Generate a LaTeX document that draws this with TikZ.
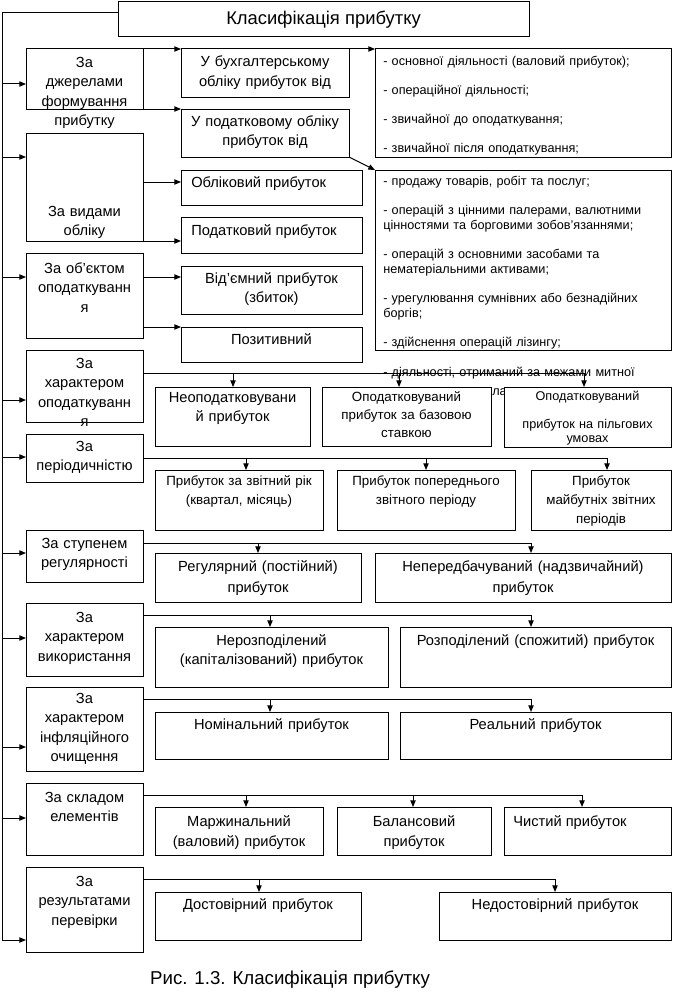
\documentclass[tikz,border=0pt]{standalone}
\usepackage{fontspec}
\setmainfont{Liberation Sans}
\usetikzlibrary{arrows.meta}
\newcommand\bx[6][]{\node[boxst,minimum width={(#5-#3)*0.75pt},minimum height={(#6-#4)*0.75pt},#1] (#2) at ({(#3+#5)/2},{(#4+#6)/2}) {};}
\begin{document}
\begin{tikzpicture}[x=0.75pt,y=-0.75pt,
  ln/.style={line width=0.75pt},
  arr/.style={line width=0.75pt,-{Triangle[length=5pt,width=4pt]}},
  boxst/.style={draw,line width=0.75pt,fill=white,inner sep=0pt,outer sep=0pt},
  lst/.style={inner sep=0pt,anchor=base west,align=left,text width=211.5pt},
  catt/.style={inner sep=0pt,anchor=base,align=center,text width=160pt,font=\fontsize{11}{14.6}\selectfont},
  subt/.style={inner sep=0pt,anchor=base,align=center,text width=260pt,font=\fontsize{11}{14.6}\selectfont},
  lt/.style={inner sep=0pt,anchor=base west,font=\fontsize{11}{14.6}\selectfont}]
\fill[white] (0,0) rectangle (673,999);
\useasboundingbox (0,0) rectangle (673,999);

% list boxes and their texts (texts overflow below)
\bx{l1}{375}{49}{671}{157}
\bx{l2}{375}{170}{671}{350}
\node[lst,font=\fontsize{9.5}{10.875}\selectfont] (l1t) at (383,65.5) {- основної діяльності (валовий прибуток);\\\mbox{}\\- операційної діяльності;\\\mbox{}\\- звичайної до оподаткування;\\\mbox{}\\- звичайної після оподаткування;};
\node[lst,font=\fontsize{9.5}{11}\selectfont] (l2t) at (383,185.5) {- продажу товарів, робіт та послуг;\\\mbox{}\\\makebox[\linewidth][s]{- операцій з цінними палерами, валютними}\\цінностями та борговими зобов’язаннями;\\\mbox{}\\\makebox[\linewidth][s]{- операцій з основними засобами та}\\нематеріальними активами;\\\mbox{}\\\makebox[\linewidth][s]{- урегулювання сумнівних або безнадійних}\\боргів;\\\mbox{}\\- здійснення операцій лізингу;\\\mbox{}\\\makebox[\linewidth][s]{- діяльності, отриманий за межами митної}};
\node[inner sep=0pt,anchor=base west,font=\fontsize{9.5}{11}\selectfont] (frag) at (492,395.5) {лас};

% title
\node[boxst,minimum width={411*0.75pt},minimum height={35*0.75pt},font=\fontsize{13.8}{16}\selectfont] (title) at (323.5,19.5) {Класифікація прибутку};

% category boxes
\bx{c1}{26}{49}{143}{109}
\bx{c2}{26}{133}{143}{241}
\bx{c3}{26}{253}{143}{338}
\bx{c4}{26}{350}{143}{422}
\bx{c5}{26}{434}{143}{482}
\bx{c6}{26}{530}{143}{582}
\bx{c7}{26}{603}{143}{676}
\bx{c8}{26}{687}{143}{771}
\bx{c9}{26}{783}{143}{855}
\bx{c10}{26}{867}{143}{952}

% sub boxes
\bx{s1a}{181}{49}{349}{97}
\bx{s1b}{181}{109}{349}{157}
\bx{s2a}{181}{170}{362}{205}
\bx{s2b}{181}{217}{362}{253}
\bx{s3a}{181}{266}{362}{314}
\bx{s3b}{181}{327}{362}{362}
\bx{s4a}{155}{387}{310}{446}
\bx{s4b}{322}{387}{491}{446}
\bx{s4c}{504}{387}{671}{447}
\bx{s5a}{155}{470}{323}{530}
\bx{s5b}{337}{470}{515}{530}
\bx{s5c}{531}{470}{671}{530}
\bx{s6a}{155}{553}{361}{602}
\bx{s6b}{375}{553}{671}{602}
\bx{s7a}{155}{627}{388}{687}
\bx{s7b}{400}{627}{671}{687}
\bx{s8a}{155}{712}{388}{759}
\bx{s8b}{400}{712}{671}{759}
\bx{s9a}{155}{807}{323}{855}
\bx{s9b}{337}{807}{491}{855}
\bx{s9c}{504}{807}{671}{855}
\bx{s10a}{155}{892}{361}{940}
\bx{s10b}{439}{892}{671}{940}

% category texts
\node[catt] (c1t) at (84.5,67.5) {За\\джерелами\\формування\\прибутку};
\node[catt] (c2t) at (84.5,216.5) {За видами\\обліку};
\node[catt] (c3t) at (84.5,273.5) {За об’єктом\\оподаткуванн\\я};
\node[catt] (c4t) at (84.5,368.5) {За\\характером\\оподаткуванн\\я};
\node[catt] (c5t) at (84.5,451.5) {За\\періодичністю};
\node[catt] (c6t) at (84.5,548.5) {За ступенем\\регулярності};
\node[catt] (c7t) at (84.5,622.5) {За\\характером\\використання};
\node[catt] (c8t) at (84.5,703.5) {За\\характером\\інфляційного\\очищення};
\node[catt] (c9t) at (84.5,802.5) {За складом\\елементів};
\node[catt] (c10t) at (84.5,886.5) {За\\результатами\\перевірки};

% sub texts
\node[subt] (s1at) at (265,67) {У бухгалтерському\\обліку прибуток від};
\node[subt] (s1bt) at (265,126.5) {У податковому обліку\\прибуток від};
\node[lt] (s2at) at (191,187.5) {Обліковий прибуток};
\node[lt] (s2bt) at (191,235) {Податковий прибуток};
\node[subt] (s3at) at (271.5,283.5) {Від’ємний прибуток\\(збиток)};
\node[subt] (s3bt) at (271.5,344.5) {Позитивний};
\node[subt] (s4at) at (232.5,402.5) {Неоподатковувани\\й прибуток};
\node[subt,font=\fontsize{10}{13.5}\selectfont] (s4bt) at (406.5,401) {Оподатковуваний\\прибуток за базовою\\ставкою};
\node[subt,font=\fontsize{9.5}{10.5}\selectfont] (s4ct) at (587.5,400.5) {Оподатковуваний\\\mbox{}\\прибуток на пільгових\\умовах};
\node[subt,font=\fontsize{10}{14.25}\selectfont] (s5at) at (239,485) {Прибуток за звітний рік\\(квартал, місяць)};
\node[subt,font=\fontsize{10}{14.25}\selectfont] (s5bt) at (426,485) {Прибуток попереднього\\звітного періоду};
\node[subt,font=\fontsize{10}{14.5}\selectfont] (s5ct) at (601,485) {Прибуток\\майбутніх звітних\\періодів};
\node[subt,font=\fontsize{11}{15.75}\selectfont] (s6at) at (258,571.5) {Регулярний (постійний)\\прибуток};
\node[subt,font=\fontsize{11}{15.75}\selectfont] (s6bt) at (523,571.5) {Непередбачуваний (надзвичайний)\\прибуток};
\node[subt] (s7at) at (271.5,645.5) {Нерозподілений\\(капіталізований) прибуток};
\node[subt] (s7bt) at (535.5,645.5) {Розподілений (спожитий) прибуток};
\node[subt] (s8at) at (271.5,729.5) {Номінальний прибуток};
\node[subt] (s8bt) at (535.5,729.5) {Реальний прибуток};
\node[subt,font=\fontsize{11}{15}\selectfont] (s9at) at (239,826.5) {Маржинальний\\(валовий) прибуток};
\node[subt,font=\fontsize{11}{15}\selectfont] (s9bt) at (414,826.5) {Балансовий\\прибуток};
\node[lt] (s9ct) at (513,826.5) {Чистий прибуток};
\node[subt] (s10at) at (258,909.5) {Достовірний прибуток};
\node[subt] (s10bt) at (555,909.5) {Недостовірний прибуток};

% caption
\node[inner sep=0pt,font=\fontsize{14}{16}\selectfont] (cap) at (290,980) {Рис. 1.3. Класифікація прибутку};

% bus
\coordinate (bt) at (2,13);
\coordinate (b1) at (2,84);
\coordinate (b2) at (2,157);
\coordinate (b3) at (2,277);
\coordinate (b4) at (2,400);
\coordinate (b5) at (2,457);
\coordinate (b6) at (2,553);
\coordinate (b7) at (2,638);
\coordinate (b8) at (2,747);
\coordinate (b9) at (2,818);
\coordinate (b10) at (2,940);
\draw[ln] (title.west |- bt) -- (bt) -- (b10);
\foreach \i in {1,...,10} \draw[arr] (b\i) -- (b\i -| c\i.west);

% top section connectors
\draw[arr] (c1.north east) -- (s1a.north west);
\draw[arr] (c1.south east) -- (s1b.north west);
\draw[arr] (s1a.north east) -- (l1.north west);
\draw[arr] (s1b.south east) -- (l2.north west);
\coordinate (a2) at (181,182);
\draw[arr] (c2.east |- a2) -- (s2a.west |- a2);
\draw[arr] (c2.south east) -- (c2.south east -| s2b.west);
\coordinate (a3) at (181,277);
\draw[arr] (c3.east |- a3) -- (s3a.west |- a3);
\draw[arr] (s3b.north west -| c3.east) -- (s3b.north west);

% section 4
\coordinate (h4a) at (233,373);
\coordinate (h4b) at (399,373);
\coordinate (h4c) at (584,373);
\draw[ln] (c4.east |- h4c) -- (h4c);
\draw[arr] (h4a) -- (h4a |- s4a.north);
\draw[arr] (h4b) -- (h4b |- s4b.north);
\draw[arr] (h4c) -- (h4c |- s4c.north);
% section 5
\coordinate (h5a) at (246,458);
\coordinate (h5b) at (426,458);
\coordinate (h5c) at (607,458);
\draw[ln] (c5.east |- h5c) -- (h5c);
\draw[arr] (h5a) -- (h5a |- s5a.north);
\draw[arr] (h5b) -- (h5b |- s5b.north);
\draw[arr] (h5c) -- (h5c |- s5c.north);
% section 6
\coordinate (h6a) at (258,543);
\coordinate (h6b) at (531,543);
\draw[ln] (c6.east |- h6b) -- (h6b);
\draw[arr] (h6a) -- (h6a |- s6a.north);
\draw[arr] (h6b) -- (h6b |- s6b.north);
% section 7
\coordinate (h7a) at (270,615);
\coordinate (h7b) at (531,615);
\draw[ln] (c7.east |- h7b) -- (h7b);
\draw[arr] (h7a) -- (h7a |- s7a.north);
\draw[arr] (h7b) -- (h7b |- s7b.north);
% section 8
\coordinate (h8a) at (270,699);
\coordinate (h8b) at (531,699);
\draw[ln] (c8.east |- h8b) -- (h8b);
\draw[arr] (h8a) -- (h8a |- s8a.north);
\draw[arr] (h8b) -- (h8b |- s8b.north);
% section 9
\coordinate (h9a) at (246,795);
\coordinate (h9b) at (413,795);
\coordinate (h9c) at (582,795);
\draw[ln] (c9.east |- h9c) -- (h9c);
\draw[arr] (h9a) -- (h9a |- s9a.north);
\draw[arr] (h9b) -- (h9b |- s9b.north);
\draw[arr] (h9c) -- (h9c |- s9c.north);
% section 10
\coordinate (h10a) at (259,879);
\coordinate (h10b) at (555,879);
\draw[ln] (c10.east |- h10b) -- (h10b);
\draw[arr] (h10a) -- (h10a |- s10a.north);
\draw[arr] (h10b) -- (h10b |- s10b.north);
\end{tikzpicture}
\end{document}
